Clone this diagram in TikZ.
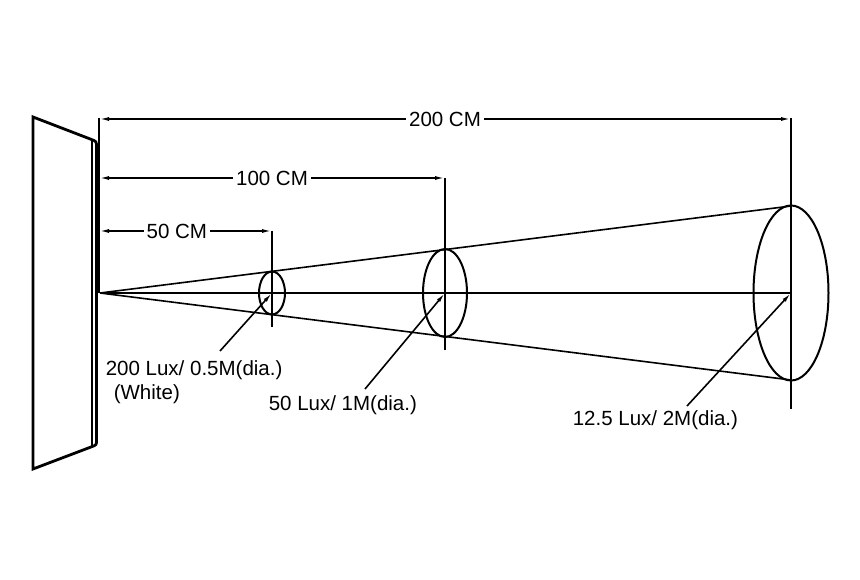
\documentclass[tikz,border=0pt]{standalone}
\usepackage{fontspec}
\setmainfont{Liberation Sans}
\usetikzlibrary{arrows.meta}
\usetikzlibrary{positioning}
\usetikzlibrary{calc}

\begin{document}
\begin{tikzpicture}[x=1pt,y=-1pt,line width=1.6pt,
    dim/.style={draw=black,line width=1.6pt,{Latex[length=10pt,width=4pt]}-{Latex[length=10pt,width=4pt]}},
    lead/.style={draw=black,line width=1.6pt,-{Latex[length=10pt,width=4pt]}},
    dimtxt/.style={fill=white,inner sep=3pt,font=\fontsize{20.5}{24}\selectfont},
    lbl/.style={inner sep=0pt,anchor=base west,font=\fontsize{20.5}{24}\selectfont}]
      \useasboundingbox (0,0) rectangle (860,580);
      % lamp
      \draw[line width=2.8pt] (33,117) -- (91,139.3) .. controls (96.5,141.4) .. (96.5,147)
        -- (96.5,440) .. controls (96.5,445) .. (91,447) -- (33,469) -- cycle;
      \draw[line width=1.2pt] (92,140) -- (92,446);
      \begin{scope}
        \coordinate (o) at (100,293);
        \coordinate (c1) at (272,293);
        \coordinate (c2) at (445,293);
        \coordinate (c3) at (791,293);
        \coordinate (t3) at (791,206);
        \coordinate (b3) at (791,380);
        \coordinate (e0a) at (99,118);
        \coordinate (e0b) at (99,293);
        \coordinate (e1a) at (272,231);
        \coordinate (e1b) at (272,327);
        \coordinate (e2a) at (445,178);
        \coordinate (e2b) at (445,350);
        \coordinate (e3a) at (791,118);
        \coordinate (e3b) at (791,409);
        \coordinate (p1) at (220,351);
        \coordinate (p2) at (365,389);
        \coordinate (p3) at (687,406);
      \end{scope}
      % beam
      \draw (o) -- (t3);
      \draw (o) -- (b3);
      \draw (o) -- (c3);
      \draw[line width=2pt] (c1) ellipse [x radius=13,y radius=21.5];
      \draw[line width=2pt] (c2) ellipse [x radius=22,y radius=44];
      \draw[line width=2pt] (c3) ellipse [x radius=37.5,y radius=87.5];
      % extension lines
      \draw (e0a) -- (e0b);
      \draw (e1a) -- (e1b);
      \draw (e2a) -- (e2b);
      \draw (e3a) -- (e3b);
      % distances
      \path[dim] ($(e0a)+(0,1)$) -- node[dimtxt] {200 CM} ($(e3a)+(0,1)$);
      \path[dim] ($(e0a)+(0,60)$) -- node[dimtxt] {100 CM} (e2a);
      \path[dim] ($(e0a)+(0,113)$) -- node[dimtxt,pos=0.45] {50 CM} (e1a);
      % spots
      \node[lbl] (lux1) at (105,375) {200 Lux/ 0.5M(dia.)};
      \node[lbl] (white) at (113,399) {(White)};
      \node[lbl] (lux2) at (268,410) {50 Lux/ 1M(dia.)};
      \node[lbl] (lux3) at (572,425) {12.5 Lux/ 2M(dia.)};
      \path[lead] (p1) -- (c1);
      \path[lead] (p2) -- (c2);
      \path[lead] (p3) -- (c3);
    \end{tikzpicture}
\end{document}
